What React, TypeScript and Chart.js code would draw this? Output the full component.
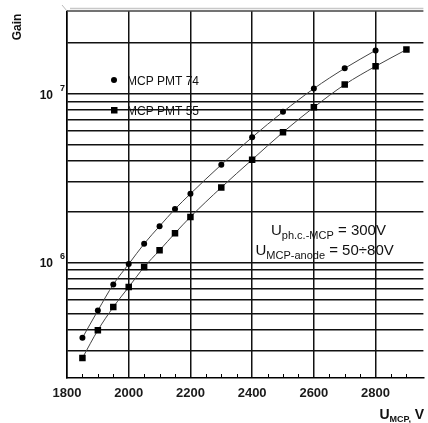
import React, { useEffect, useRef } from "react";
import { Chart, registerables } from "chart.js";

Chart.register(...registerables);

// ---- data ----
const voltages74 = [1850, 1900, 1950, 2000, 2050, 2100, 2150, 2200, 2300, 2400, 2500, 2600, 2700, 2800];
const gain74 = [3.58e5, 5.19e5, 7.41e5, 9.78e5, 1.29e6, 1.64e6, 2.07e6, 2.55e6, 3.79e6, 5.51e6, 7.79e6, 1.07e7, 1.41e7, 1.8e7];
const voltages55 = [1850, 1900, 1950, 2000, 2050, 2100, 2150, 2200, 2300, 2400, 2500, 2600, 2700, 2800, 2900];
const gain55 = [2.72e5, 3.97e5, 5.44e5, 7.15e5, 9.39e5, 1.18e6, 1.49e6, 1.86e6, 2.78e6, 4.06e6, 5.9e6, 8.29e6, 1.13e7, 1.45e7, 1.82e7];
const seriesNames = ["MCP PMT 74", "MCP PMT 55"];
const xTickValues = [1800, 2000, 2200, 2400, 2600, 2800];
const xMinorTicks = [1850, 1900, 1950, 2050, 2100, 2150, 2250, 2300, 2350, 2450, 2500, 2550, 2650, 2700, 2750, 2850, 2900];
const yGridValues = [3e5, 4e5, 5e5, 6e5, 7e5, 8e5, 9e5, 1e6, 2e6, 3e6, 4e6, 5e6, 6e6, 7e6, 8e6, 9e6, 1e7, 2e7];
const yLabelExponents = [6, 7];
const xRange = [1800, 2955];
const yRange = [2.07e5, 3.08e7];

const FONT = "'Liberation Sans', Arial, sans-serif";

type Seg = { t: string; size: number; dy: number; bold?: boolean };

function drawSegs(ctx: CanvasRenderingContext2D, x: number, y: number, segs: Seg[]) {
  let cx = x;
  for (const s of segs) {
    ctx.font = `${s.bold ? "bold " : ""}${s.size}px ${FONT}`;
    ctx.fillText(s.t, cx, y + s.dy);
    cx += ctx.measureText(s.t).width;
  }
}

const decorPlugin = {
  id: "decor",
  afterDatasetsDraw(chart: any) {
    const ctx: CanvasRenderingContext2D = chart.ctx;
    const { left, right, top, bottom } = chart.chartArea;
    const xs = chart.scales.x;
    const ys = chart.scales.y;
    ctx.save();
    // top frame with shadow
    ctx.strokeStyle = "#c8c8c8";
    ctx.lineWidth = 1.5;
    ctx.beginPath();
    ctx.moveTo(left + 3, top - 2.5);
    ctx.lineTo(right, top - 2.5);
    ctx.stroke();
    ctx.strokeStyle = "#444";
    ctx.lineWidth = 1.5;
    ctx.beginPath();
    ctx.moveTo(left, top);
    ctx.lineTo(right, top);
    ctx.stroke();
    ctx.strokeStyle = "#bbb";
    ctx.lineWidth = 1;
    ctx.beginPath();
    ctx.moveTo(left, top);
    ctx.lineTo(left - 5, top - 6);
    ctx.stroke();
    // minor ticks inward on the bottom axis
    ctx.strokeStyle = "#000";
    ctx.lineWidth = 1;
    ctx.beginPath();
    for (const v of xMinorTicks) {
      const px = Math.round(xs.getPixelForValue(v)) + 0.5;
      ctx.moveTo(px, bottom);
      ctx.lineTo(px, bottom - 4);
    }
    ctx.stroke();

    ctx.fillStyle = "#111";
    ctx.textBaseline = "alphabetic";
    // y tick labels 10^n
    for (const e of yLabelExponents) {
      const py = ys.getPixelForValue(Math.pow(10, e));
      ctx.font = `bold 12px ${FONT}`;
      ctx.textAlign = "right";
      ctx.fillText("10", 53, py + 5);
      ctx.textAlign = "left";
      ctx.font = `bold 9px ${FONT}`;
      ctx.fillText(String(e), 60, py - 3);
    }
    // y title
    ctx.save();
    ctx.translate(21, 27);
    ctx.rotate(-Math.PI / 2);
    ctx.textAlign = "center";
    ctx.font = `bold 12px ${FONT}`;
    ctx.fillText("Gain", 0, 0);
    ctx.restore();
    // x title
    ctx.textAlign = "left";
    drawSegs(ctx, 379.5, 419, [
      { t: "U", size: 14, dy: 0, bold: true },
      { t: "MCP,", size: 9, dy: 3, bold: true },
      { t: " V", size: 14, dy: 0, bold: true },
    ]);
    // legend
    ctx.fillStyle = "#000";
    ctx.beginPath();
    ctx.arc(114, 80, 3, 0, Math.PI * 2);
    ctx.fill();
    ctx.fillRect(111, 107, 6.5, 6.5);
    ctx.fillStyle = "#111";
    ctx.font = `12px ${FONT}`;
    ctx.fillText(seriesNames[0], 127, 84.5);
    ctx.fillText(seriesNames[1], 127, 114.5);
    // annotation
    drawSegs(ctx, 271, 234.5, [
      { t: "U", size: 15, dy: 0 },
      { t: "ph.c.-MCP", size: 11, dy: 4 },
      { t: " = 300V", size: 15, dy: 0 },
    ]);
    drawSegs(ctx, 255.5, 254.5, [
      { t: "U", size: 15, dy: 0 },
      { t: "MCP-anode", size: 11, dy: 4 },
      { t: " = 50÷80V", size: 15, dy: 0 },
    ]);
    ctx.restore();
  },
};

export default function App() {
  const ref = useRef<HTMLCanvasElement | null>(null);
  useEffect(() => {
    document.body.style.margin = "0";
    const canvas = ref.current;
    if (!canvas) return;
    const chart = new Chart(canvas, {
      type: "line",
      data: {
        datasets: [
          {
            label: seriesNames[0],
            data: voltages74.map((v, i) => ({ x: v, y: gain74[i] })),
            borderColor: "#444",
            borderWidth: 1,
            pointStyle: "circle",
            pointRadius: 3,
            pointBackgroundColor: "#000",
            pointBorderColor: "#000",
            pointBorderWidth: 0,
            cubicInterpolationMode: "monotone",
          },
          {
            label: seriesNames[1],
            data: voltages55.map((v, i) => ({ x: v, y: gain55[i] })),
            borderColor: "#444",
            borderWidth: 1,
            pointStyle: "rect",
            pointRadius: 4.6,
            pointBackgroundColor: "#000",
            pointBorderColor: "#000",
            pointBorderWidth: 0,
            cubicInterpolationMode: "monotone",
          },
        ],
      },
      options: {
        animation: false,
        responsive: false,
        events: [],
        layout: { padding: { top: 11, right: 0, left: 0, bottom: 0 } },
        plugins: { legend: { display: false }, tooltip: { enabled: false } },
        scales: {
          x: {
            type: "linear",
            min: xRange[0],
            max: xRange[1],
            afterBuildTicks: (s: any) => {
              s.ticks = xTickValues.map((v) => ({ value: v }));
            },
            afterFit: (s: any) => {
              s.height = 45;
            },
            grid: { color: "#111", lineWidth: 1.5, drawTicks: false },
            border: { display: true, color: "#000", width: 1.5 },
            ticks: {
              padding: 8,
              color: "#1a1a1a",
              font: { family: FONT, size: 13, weight: "bold" },
              callback: (v: any) => String(v),
            },
          },
          y: {
            type: "logarithmic",
            min: yRange[0],
            max: yRange[1],
            afterBuildTicks: (s: any) => {
              s.ticks = yGridValues.map((v) => ({ value: v }));
            },
            afterFit: (s: any) => {
              s.width = 67;
            },
            grid: { color: "#111", lineWidth: 1.5, drawTicks: false },
            border: { display: true, color: "#000", width: 1.5 },
            ticks: { display: false },
          },
        },
      },
      plugins: [decorPlugin],
    } as any);
    return () => chart.destroy();
  }, []);
  return <canvas ref={ref} width={428} height={423} />;
}
